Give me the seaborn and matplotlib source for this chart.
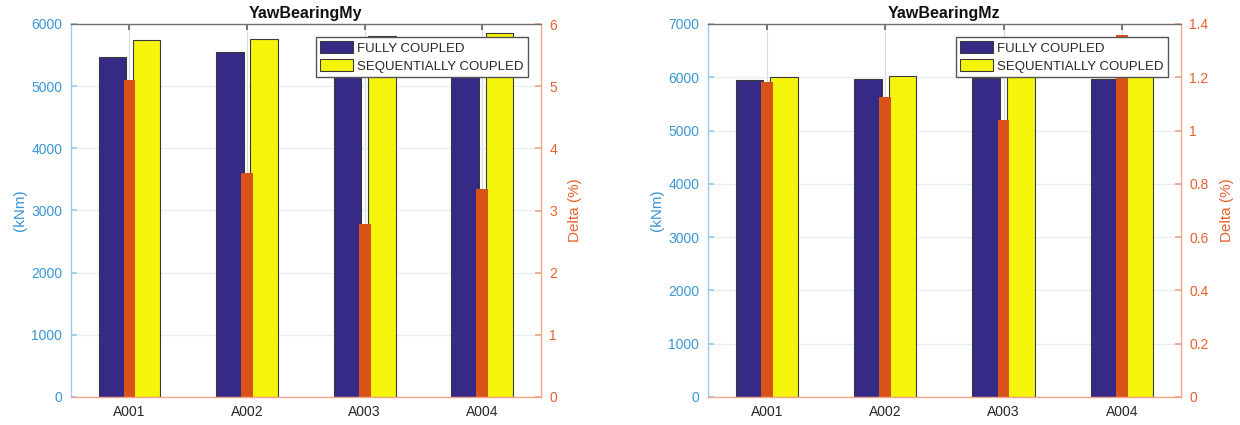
import numpy as np
import pandas as pd
import matplotlib
matplotlib.use("Agg")
import matplotlib.pyplot as plt
import seaborn as sns

# ---- data ----
categories = ["A001", "A002", "A003", "A004"]
series_names = ["FULLY COUPLED", "SEQUENTIALLY COUPLED"]

my_fully = [5464, 5554, 5654, 5665]
my_seq = [5743, 5754, 5812, 5855]
my_delta = [5.10, 3.60, 2.79, 3.35]

mz_fully = [5943, 5962, 5980, 5962]
mz_seq = [6005, 6024, 6042, 6043]
mz_delta = [1.183, 1.127, 1.040, 1.360]

panels = [
    ("YawBearingMy", my_fully, my_seq, my_delta, 6000, 1000, 6, 1),
    ("YawBearingMz", mz_fully, mz_seq, mz_delta, 7000, 1000, 1.4, 0.2),
]

# ---- style ----
sns.set_theme(style="white")
plt.rcParams["font.family"] = ["Liberation Sans", "DejaVu Sans"]

NAVY = "#352A86"
YELLOW = "#F5F50C"
ORANGE = "#D95319"
BLUE_TXT = "#3A96D4"
BLUE_SP = "#9CCBEB"
ORANGE_TXT = "#E5622E"
ORANGE_SP = "#F2A58A"

fig = plt.figure(figsize=(12.4, 4.25), dpi=100)
positions = [
    [70.7 / 1240, 1 - 397 / 425, (541 - 70.7) / 1240, (397 - 24) / 425],
    [707.7 / 1240, 1 - 397 / 425, (1181 - 707.7) / 1240, (397 - 24) / 425],
]

for pos, (title, fully, seq, delta, ymax, ystep, dmax, dstep) in zip(positions, panels):
    ax1 = fig.add_axes(pos)
    df = pd.DataFrame({
        "cat": categories * 2,
        "val": list(fully) + list(seq),
        "series": [series_names[0]] * 4 + [series_names[1]] * 4,
    })
    sns.barplot(data=df, x="cat", y="val", hue="series", order=categories,
                hue_order=series_names, palette=[NAVY, YELLOW], saturation=1,
                width=0.584, gap=0.2, edgecolor="#3a3a3a", linewidth=0.8,
                ax=ax1, zorder=2)
    handles, labels = ax1.get_legend_handles_labels()
    if ax1.get_legend() is not None:
        ax1.get_legend().remove()
    ax1.set_xlim(-0.5, 3.5)
    ax1.set_ylim(0, ymax)
    ax1.set_yticks(np.arange(0, ymax + 1, ystep))
    ax1.set_yticklabels([f"{int(v)}" for v in np.arange(0, ymax + 1, ystep)])
    ax1.set_xlabel("")
    ax1.set_ylabel("(kNm)", color=BLUE_TXT, fontsize=11, labelpad=3)
    ax1.set_axisbelow(True)
    ax1.yaxis.grid(True, color="#E3EEF7", linewidth=0.9)
    ax1.xaxis.grid(True, color="#DADADA", linewidth=0.8)
    ax1.tick_params(axis="y", direction="in", length=4, color=BLUE_SP,
                    labelcolor=BLUE_TXT, labelsize=10, pad=6, left=True)
    ax1.tick_params(axis="x", direction="in", length=4, color="#666666",
                    labelcolor="#262626", labelsize=10, pad=6,
                    top=True, bottom=False)
    for s in ["top", "right", "bottom"]:
        ax1.spines[s].set_visible(False)
    ax1.spines["left"].set_color(BLUE_SP)
    ax1.spines["left"].set_linewidth(1.0)
    ax1.set_title(title, fontsize=11.5, fontweight="bold", color="#111111", pad=4)

    ax2 = ax1.twinx()
    sns.barplot(x=categories, y=delta, order=categories, color=ORANGE,
                saturation=1, width=0.1, linewidth=0, ax=ax2)
    ax2.set_xlim(-0.5, 3.5)
    ax2.set_ylim(0, dmax)
    dt = np.round(np.arange(0, dmax + dstep / 2, dstep), 2)
    ax2.set_yticks(dt)
    ax2.set_yticklabels([f"{v:g}" for v in dt])
    ax2.set_ylabel("Delta (%)", color=ORANGE_TXT, fontsize=11, labelpad=8)
    ax2.tick_params(axis="y", direction="in", length=4, color=ORANGE_SP,
                    labelcolor=ORANGE_TXT, labelsize=10, pad=6, right=True)
    ax2.tick_params(axis="x", which="both", bottom=False, top=False)
    ax2.spines["left"].set_visible(False)
    ax2.spines["right"].set_color(ORANGE_SP)
    ax2.spines["bottom"].set_color(ORANGE_SP)
    ax2.spines["top"].set_color("#707070")
    for s in ["right", "bottom", "top"]:
        ax2.spines[s].set_visible(True)
        ax2.spines[s].set_linewidth(1.0)
    ax2.grid(False)

    leg = ax2.legend(handles, labels, loc="upper right", fontsize=9.5,
                     frameon=True, fancybox=False, framealpha=1,
                     edgecolor="#555555", borderaxespad=1.0,
                     handlelength=2.5, handleheight=1.0, handletextpad=0.3,
                     labelspacing=0.35, borderpad=0.3)
    leg.get_frame().set_linewidth(1.0)
    for t in leg.get_texts():
        t.set_color("#262626")

fig.savefig("out.png", dpi=100)
